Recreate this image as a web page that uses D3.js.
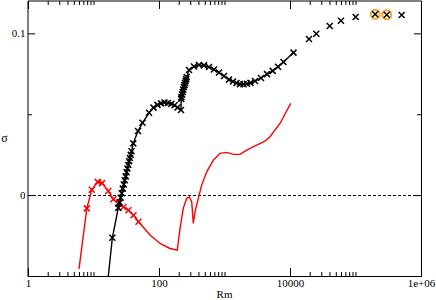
<!DOCTYPE html>
<html>
<head>
<meta charset="utf-8">
<script src="https://cdn.jsdelivr.net/npm/d3@7"></script>
<style>
  body { margin: 0; background: #fff; }
  text { font-family: "Liberation Serif", "DejaVu Serif", serif; fill: #000; }
</style>
</head>
<body>
<div id="graphic"></div>
<script>
const width = 436;
const height = 300;

// black series, joined by a line, marker on every point
const blackLineRm = [15.5, 19.4, 23.9,
  25, 26, 27, 28, 29, 30, 31, 32, 33, 34, 35, 36, 37, 38,
  40.5, 47.8, 56, 70.4, 82.4, 94.9, 107.3, 121.3, 137.2, 154.1, 172.5, 191.6, 216.7,
  218, 220, 225, 230, 235, 240, 245, 250, 255, 260, 265,
  287, 342, 408, 486, 580, 691, 824, 983, 1172, 1349, 1525, 1724, 1950, 2205, 2494,
  2922, 3608, 4456, 5444, 6559, 7957, 11310];
const blackLineSigma = [-0.0637, -0.0264, -0.0079,
  -0.0045, -0.0016, 0.0012, 0.0040, 0.0066, 0.0092, 0.0116, 0.0141, 0.0165, 0.0186, 0.0209, 0.0229, 0.0250, 0.0271,
  0.0320, 0.0396, 0.0447, 0.0509, 0.0541, 0.0558, 0.0567, 0.0572, 0.0570, 0.0564, 0.0555, 0.0542, 0.0526,
  0.0595, 0.0606, 0.0622, 0.0637, 0.0652, 0.0668, 0.0680, 0.0693, 0.0705, 0.0717, 0.0730,
  0.0773, 0.0795, 0.0804, 0.0802, 0.0792, 0.0776, 0.0758, 0.0736, 0.0714, 0.0702, 0.0693, 0.0686, 0.0685, 0.0688, 0.0694,
  0.0705, 0.0724, 0.0748, 0.0768, 0.0793, 0.0823, 0.0881];

// black points with no line
const blackPointRm = [19500, 25200, 40400, 60000, 100700, 200000, 300000, 507000];
const blackPointSigma = [0.0965, 0.0998, 0.1045, 0.1078, 0.1101, 0.1118, 0.1115, 0.1113];

// circled points
const highlightRm = [200000, 300000];
const highlightSigma = [0.1118, 0.1115];

// red series: bare start, marked part, bare tail
const redHeadRm = [6.0];
const redHeadSigma = [-0.0458];
const redMarkRm = [7.9, 9.4, 11.6, 13.5, 16.8, 20.1, 24.1, 28.7, 34.2, 40.8, 48.6];
const redMarkSigma = [-0.0082, 0.0033, 0.0082, 0.0074, 0.0025, -0.0025, -0.0053, -0.0074, -0.0093, -0.0124, -0.0165];
const redTailRm = [72.9, 103.6, 147.2, 190.3, 209.3, 234.9, 264.8, 290.1, 315.6, 334, 354.4, 398.1,
  448.6, 534.9, 674.5, 853.7, 1080, 1363, 1724, 2183, 2922, 4152, 4951, 7037, 10250];
const redTailSigma = [-0.0247, -0.0299, -0.0330, -0.0340, -0.0206, -0.0082, -0.0020, -0.0011, -0.0041, -0.0175, -0.0103, -0.0020,
  0.0062, 0.0144, 0.0216, 0.0258, 0.0264, 0.0252, 0.0252, 0.0278, 0.0305, 0.0334, 0.0361, 0.0443, 0.0567];

// axes
const xMajorTicks = [1, 100, 10000, 1000000];
const xTickLabels = ['1', '100', '10000', '1e+06'];
const yMajorTicks = [0, 0.1];
const yTickLabels = ['0', '0.1'];
const yMinorTicks = [-0.05, 0.05];

const plotLeft = 28, plotRight = 421, plotTop = 1, plotBottom = 276;

const svg = d3.select('#graphic')
  .append('svg')
  .attr('width', width)
  .attr('height', height);

const scaleX = d3.scaleLog().domain([1, 1e6]).range([plotLeft, plotRight]);
const scaleY = d3.scaleLinear().domain([-0.05, 0.12]).range([plotBottom, plotTop]);

// minor log ticks: 2..10 times each major
const xMinorTicks = [];
xMajorTicks.slice(0, -1).forEach(m => {
  for (let k = 2; k <= 10; k++) xMinorTicks.push(m * k);
});

svg.append('defs').append('clipPath').attr('id', 'plotclip')
  .append('rect')
  .attr('x', plotLeft).attr('y', plotTop)
  .attr('width', plotRight - plotLeft).attr('height', plotBottom - plotTop);

// zero line
svg.append('line')
  .attr('x1', plotLeft).attr('x2', plotRight)
  .attr('y1', Math.round(scaleY(0)) + 0.5).attr('y2', Math.round(scaleY(0)) + 0.5)
  .attr('stroke', '#000')
  .attr('stroke-width', 1)
  .attr('stroke-dasharray', '3,2');

// ticks
function tickAxis(axis, tx, ty) {
  const g = svg.append('g')
    .attr('transform', `translate(${tx},${ty})`)
    .call(axis);
  g.select('.domain').remove();
  g.selectAll('line').attr('stroke', '#000');
  g.selectAll('text').style('font-size', '11px').attr('font-family', null);
  return g;
}

tickAxis(d3.axisBottom(scaleX).tickValues(xMajorTicks).tickSize(-8).tickPadding(3)
  .tickFormat((d, i) => xTickLabels[i]), 0, plotBottom);
tickAxis(d3.axisBottom(scaleX).tickValues(xMinorTicks).tickSize(-4).tickFormat(''), 0, plotBottom);
tickAxis(d3.axisTop(scaleX).tickValues(xMajorTicks).tickSize(-8).tickFormat(''), 0, plotTop);
tickAxis(d3.axisTop(scaleX).tickValues(xMinorTicks).tickSize(-4).tickFormat(''), 0, plotTop);

tickAxis(d3.axisLeft(scaleY).tickValues(yMajorTicks).tickSize(-7).tickPadding(2.5)
  .tickFormat((d, i) => yTickLabels[i]), plotLeft, 0);
tickAxis(d3.axisLeft(scaleY).tickValues(yMinorTicks).tickSize(-4).tickFormat(''), plotLeft, 0);
tickAxis(d3.axisRight(scaleY).tickValues(yMajorTicks).tickSize(-7).tickFormat(''), plotRight, 0);
tickAxis(d3.axisRight(scaleY).tickValues(yMinorTicks).tickSize(-4).tickFormat(''), plotRight, 0);

// frame
svg.append('g').attr('stroke', '#000').attr('stroke-width', 1)
  .selectAll('line')
  .data([[plotLeft, plotTop, plotLeft, plotBottom + 0.5], [plotLeft, plotTop, plotRight + 0.5, plotTop],
         [plotLeft, plotBottom + 0.5, plotRight + 1, plotBottom + 0.5], [plotRight + 0.5, plotTop, plotRight + 0.5, plotBottom + 1]])
  .enter().append('line')
  .attr('x1', d => d[0]).attr('y1', d => d[1])
  .attr('x2', d => d[2]).attr('y2', d => d[3]);

const plot = svg.append('g').attr('clip-path', 'url(#plotclip)');

const line = d3.line()
  .x(d => scaleX(d[0]))
  .y(d => scaleY(d[1]));

function pairs(xs, ys) {
  return xs.map((x, i) => [x, ys[i]]);
}

function crosses(data, color) {
  const s = 3;
  plot.append('g')
    .selectAll('path')
    .data(data)
    .enter().append('path')
    .attr('d', d => {
      const cx = scaleX(d[0]), cy = scaleY(d[1]);
      return `M${cx - s},${cy - s}L${cx + s},${cy + s}M${cx - s},${cy + s}L${cx + s},${cy - s}`;
    })
    .attr('stroke', color)
    .attr('stroke-width', 1.5)
    .attr('fill', 'none');
}

// red
const redAll = pairs(redHeadRm.concat(redMarkRm, redTailRm), redHeadSigma.concat(redMarkSigma, redTailSigma));
plot.append('path')
  .datum(redAll)
  .attr('d', line)
  .attr('fill', 'none')
  .attr('stroke', '#ff0000')
  .attr('stroke-width', 1.4);
crosses(pairs(redMarkRm, redMarkSigma), '#ff0000');

// black
const blackData = pairs(blackLineRm, blackLineSigma);
plot.append('path')
  .datum(blackData)
  .attr('d', line)
  .attr('fill', 'none')
  .attr('stroke', '#000')
  .attr('stroke-width', 1.4);

// highlight rings
plot.append('g')
  .selectAll('circle')
  .data(pairs(highlightRm, highlightSigma))
  .enter().append('circle')
  .attr('cx', d => scaleX(d[0]))
  .attr('cy', d => scaleY(d[1]))
  .attr('r', 4.5)
  .attr('fill', '#fff')
  .attr('stroke', '#f4a52a')
  .attr('stroke-width', 2);

crosses(blackData, '#000');
crosses(pairs(blackPointRm, blackPointSigma), '#000');

// axis titles
svg.append('text')
  .attr('x', (plotLeft + plotRight) / 2)
  .attr('y', 298)
  .attr('text-anchor', 'middle')
  .style('font-size', '11px')
  .text('Rm');

svg.append('text')
  .attr('x', 4.5)
  .attr('y', 142)
  .attr('text-anchor', 'middle')
  .style('font-size', '12px')
  .text('σ');
</script>
</body>
</html>
